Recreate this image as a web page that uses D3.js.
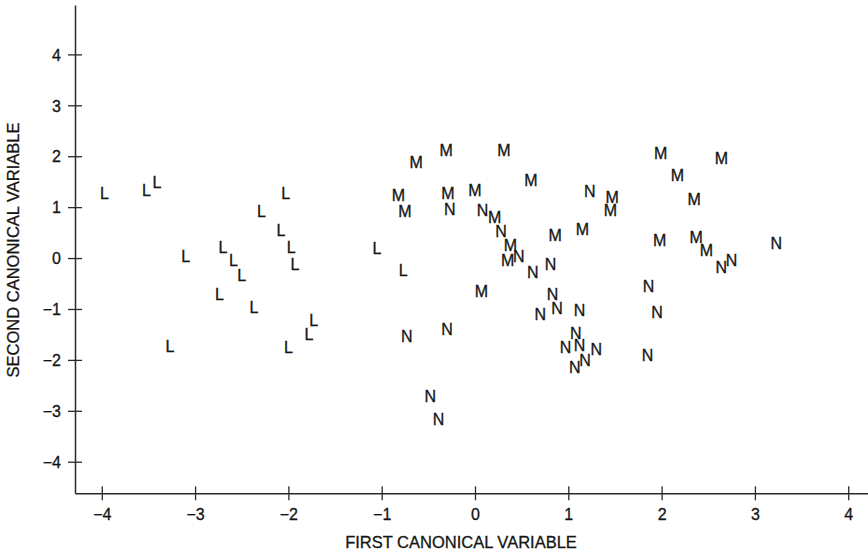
<!DOCTYPE html>
<html>
<head>
<meta charset="utf-8">
<script src="https://cdn.jsdelivr.net/npm/d3@7"></script>
<style>
  body { margin: 0; background: #fff; }
  text { fill: #141414; stroke: #141414; stroke-width: 0.3px; }
</style>
</head>
<body>
<div id="chart"></div>
<script>
// group L
const lX = [-3.97, -3.52, -3.41, -2.03, -2.29, -2.08, -1.97, -1.93, -3.10, -2.70,
            -2.59, -2.50, -2.74, -2.37, -1.73, -1.78, -2.00, -3.27, -1.05, -0.77];
const lY = [1.27, 1.34, 1.48, 1.27, 0.91, 0.55, 0.21, -0.12, 0.03, 0.21,
            -0.04, -0.33, -0.71, -0.96, -1.22, -1.49, -1.75, -1.73, 0.19, -0.24];

// group M
const mX = [-0.31, 0.31, -0.63, 0.60, -0.82, -0.29, 0.00, -0.75, 0.21, 0.86, 1.15, 0.38,
            0.35, 0.07, 1.99, 2.64, 2.17, 2.35, 1.47, 1.45, 1.98, 2.37, 2.48];
const mY = [2.11, 2.11, 1.89, 1.52, 1.24, 1.28, 1.34, 0.91, 0.80, 0.45, 0.57, 0.26,
            -0.04, -0.66, 2.06, 1.96, 1.63, 1.15, 1.20, 0.94, 0.35, 0.40, 0.16];

// group N
const nX = [1.23, -0.27, 0.08, 0.28, 0.47, 0.62, 0.81, 0.83, 0.88, 0.70, 1.12, 1.86, 1.95, 1.08,
            1.12, 0.97, 1.30, 1.18, 1.07, 1.85, 2.75, 2.64, 3.23, -0.73, -0.30, -0.48, -0.39];
const nY = [1.32, 0.96, 0.94, 0.52, 0.03, -0.28, -0.12, -0.71, -0.99, -1.11, -1.02, -0.56, -1.07, -1.47,
            -1.71, -1.76, -1.79, -2.00, -2.14, -1.91, -0.04, -0.18, 0.29, -1.53, -1.39, -2.71, -3.16];

const ticks = [-4, -3, -2, -1, 0, 1, 2, 3, 4];

const width = 868, height = 554;

const svg = d3.select("#chart").append("svg")
  .attr("width", width)
  .attr("height", height);

const x = d3.scaleLinear().domain([-4.287, 4.212]).range([75, 868]);
const y = d3.scaleLinear().domain([-4.62, 4.97]).range([493.3, 5]);

// points as letters
const points = [];
lX.forEach((v, i) => points.push({ label: "L", x: v, y: lY[i] }));
mX.forEach((v, i) => points.push({ label: "M", x: v, y: mY[i] }));
nX.forEach((v, i) => points.push({ label: "N", x: v, y: nY[i] }));

svg.append("g")
  .selectAll("text")
  .data(points)
  .enter()
  .append("text")
  .attr("x", d => x(d.x))
  .attr("y", d => y(d.y))
  .attr("dy", "0.36em")
  .attr("text-anchor", "middle")
  .style("font-family", "'Liberation Sans Narrow', 'Liberation Sans', Arial, sans-serif")
  .style("font-size", "16px")
  .text(d => d.label);

// axes
const xAxis = svg.append("g")
  .attr("transform", `translate(0,${y(-4.62)})`)
  .call(d3.axisBottom(x).tickValues(ticks).tickSize(7).tickSizeOuter(0));

const yAxis = svg.append("g")
  .attr("transform", `translate(${x(-4.287)},0)`)
  .call(d3.axisLeft(y).tickValues(ticks).tickSize(7).tickSizeOuter(0));

[xAxis, yAxis].forEach(g => {
  g.select(".domain").attr("stroke", "#2a2a2a").attr("stroke-width", 1.5);
  g.selectAll(".tick line").attr("stroke", "#2a2a2a").attr("stroke-width", 1.3);
  g.selectAll(".tick text")
    .style("font-family", "'Liberation Sans', Arial, sans-serif")
    .style("font-size", "16px")
    .attr("fill", "#141414");
});

// ticks cross the axis line
xAxis.selectAll(".tick line").attr("y1", -7).attr("y2", 7);
xAxis.selectAll(".tick text").attr("y", 21).attr("dy", "0.36em");
yAxis.selectAll(".tick line").attr("x1", -7).attr("x2", 7);
yAxis.selectAll(".tick text").attr("x", -14).attr("dy", "0.36em");

// titles
svg.append("text")
  .attr("x", 461)
  .attr("y", 548)
  .attr("text-anchor", "middle")
  .style("font-family", "'Liberation Sans', Arial, sans-serif")
  .style("font-size", "16.5px")
  .text("FIRST CANONICAL VARIABLE");

svg.append("text")
  .attr("transform", "translate(19,250) rotate(-90)")
  .attr("text-anchor", "middle")
  .style("font-family", "'Liberation Sans', Arial, sans-serif")
  .style("font-size", "16.5px")
  .text("SECOND CANONICAL VARIABLE");
</script>
</body>
</html>
